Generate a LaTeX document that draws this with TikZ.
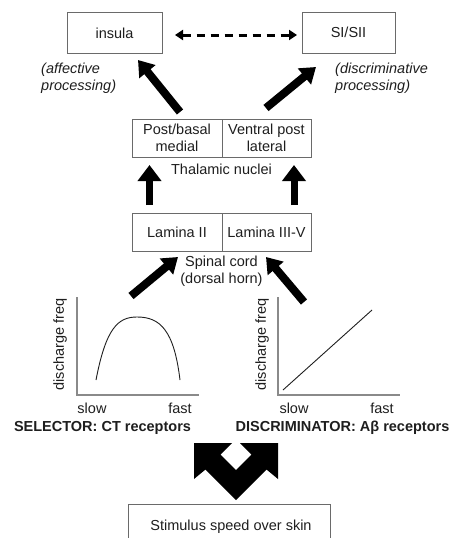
\documentclass[tikz,border=0pt]{standalone}
\usepackage{fontspec}
\setmainfont{Liberation Sans}
\usetikzlibrary{arrows.meta}
\definecolor{txt}{HTML}{1E1E1E}
\definecolor{boxc}{HTML}{6A6A6A}
\definecolor{axc}{HTML}{8A8A8A}
\tikzset{
  lbl/.style={text=txt,font=\fontsize{14.5}{17}\selectfont,align=center,inner sep=0pt},
  ilbl/.style={lbl,font=\fontsize{14.5}{17}\selectfont\itshape,align=left},
  blbl/.style={lbl,font=\fontsize{14.5}{17}\selectfont\bfseries},
  boxn/.style={lbl,draw=boxc,line width=0.9pt,minimum height=39pt},
  bigarrow/.style={line width=7pt,-{Triangle[width=23pt,length=16pt]},black},
  diagarrow/.style={line width=8pt,-{Triangle[width=20pt,length=15pt]},black},
  axis/.style={draw=axc,line width=1.3pt},
  curve/.style={draw=txt,line width=0.9pt}
}
\begin{document}
\begin{tikzpicture}[x=1pt,y=-1pt]
\useasboundingbox (0,0) rectangle (453,538);
\clip (0,0) rectangle (453,538);
% top boxes
\node[boxn,minimum width=95pt,minimum height=41pt] (insula) at (114.5,33) {insula};
\node[boxn,minimum width=93pt,minimum height=41pt] (si) at (348.5,32.5) {SI/SII};
\coordinate (dl) at (175,35);
\coordinate (dr) at (297,35);
\draw[line width=3pt,dash pattern=on 8pt off 6pt,{Triangle[width=10pt,length=8pt]}-{Triangle[width=10pt,length=8pt]}] (dl) -- (dr);
\node[ilbl,anchor=north west] (aff) at (41,63) {(affective\\processing)};
\node[ilbl,anchor=north west] (disc) at (335,63) {(discriminative\\processing)};
% thalamic
\node[boxn,minimum width=90pt,minimum height=38pt] (pbm) at (177,138) {Post/basal\\medial};
\node[boxn,minimum width=89pt,minimum height=38pt] (vpl) at (266.5,138) {Ventral post\\lateral};
\node[lbl] (thal) at (221.5,169) {Thalamic nuclei};
% lamina
\node[boxn,minimum width=90pt,minimum height=38pt] (l2) at (177,232) {Lamina II};
\node[boxn,minimum width=89pt,minimum height=38pt] (l3) at (266.5,232) {Lamina III-V};
\node[lbl] (sc) at (221.5,271.5) {Spinal cord\\(dorsal horn)};
% arrows thalamus -> cortex
\coordinate (a1s) at (180,112);
\coordinate (a1e) at (138,60);
\coordinate (a2s) at (266,108);
\coordinate (a2e) at (316,67);
\draw[diagarrow] (a1s) -- (a1e);
\draw[diagarrow] (a2s) -- (a2e);
% arrows lamina -> thalamus
\coordinate (v1s) at (149.5,205);
\coordinate (v1e) at (149.5,165);
\coordinate (v2s) at (294,205);
\coordinate (v2e) at (294,165);
\draw[bigarrow] (v1s) -- (v1e);
\draw[bigarrow] (v2s) -- (v2e);
% arrows graphs -> lamina
\coordinate (g1s) at (131,296);
\coordinate (g1e) at (178,257);
\coordinate (g2s) at (304,302);
\coordinate (g2e) at (266,257);
\draw[diagarrow] (g1s) -- (g1e);
\draw[diagarrow] (g2s) -- (g2e);
% left graph
\coordinate (o1) at (77,395);
\draw[axis] (77,297) -- (o1) -- (199,395);
\draw[curve] (96,380) .. controls (106,328) and (118,317) .. (137,317)
  .. controls (160,317) and (174,330) .. (180,380);
\node[lbl,rotate=90] (df1) at (60,344.5) {discharge freq};
\node[lbl] (s1) at (92,408) {slow};
\node[lbl] (f1) at (180,408) {fast};
\node[blbl] (sel) at (102.5,427.5) {SELECTOR: CT receptors};
% right graph
\coordinate (o2) at (278,395);
\draw[axis] (278,297) -- (o2) -- (400,395);
\draw[curve] (283,390) -- (372,310);
\node[lbl,rotate=90] (df2) at (262,344.5) {discharge freq};
\node[lbl] (s2) at (294,408) {slow};
\node[lbl] (f2) at (382,408) {fast};
\node[blbl] (dis) at (342.5,427.5) {DISCRIMINATOR: Aβ receptors};
% V double arrow
\fill[black] (236,500) -- (205.5,469.5) -- (194,479) -- (194,443) -- (232,443)
  -- (220.5,454.5) -- (236,470) -- (251.5,454.5) -- (240,443) -- (278,443)
  -- (278,479) -- (266.5,469.5) -- cycle;
% stimulus box
\draw[draw=boxc,line width=0.9pt] (128,540) -- (128,504) -- (330,504) -- (330,540);
\node[lbl] (stim) at (231,527) {Stimulus speed over skin};
\end{tikzpicture}
\end{document}
